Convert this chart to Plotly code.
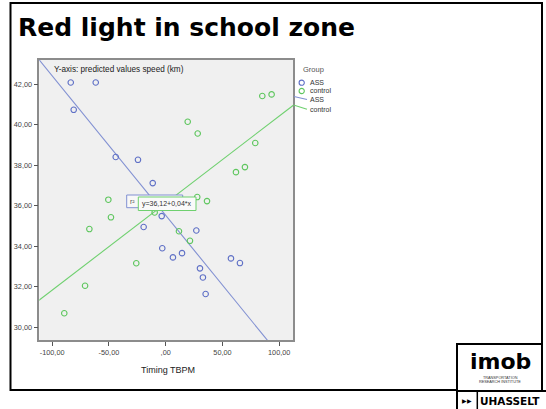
import plotly.graph_objects as go

W, H = 546, 409

# ---- data ----
ass_x = [-83.6, -61.6, -81.0, -44.0, -24.4, -11.4, -19.4, -3.5, 27.0, -3.0, 6.4, 14.4, 57.5, 65.4, 30.2, 32.8, 35.2]
ass_y = [42.08, 42.08, 40.73, 38.40, 38.26, 37.11, 34.94, 35.48, 34.77, 33.89, 33.44, 33.65, 33.39, 33.16, 32.90, 32.45, 31.63]
ctrl_x = [85.1, 93.3, 19.4, 28.2, 78.9, 69.8, 61.9, 27.8, 36.4, -50.5, -48.2, -67.2, -71.0, -89.3, -25.9, -9.7, 11.7, 21.4]
ctrl_y = [41.41, 41.49, 40.14, 39.56, 39.09, 37.90, 37.65, 36.42, 36.22, 36.29, 35.42, 34.84, 32.04, 30.68, 33.15, 35.66, 34.73, 34.26]
ass_fit = [35.52, -0.0689]      # intercept, slope
ctrl_fit = [36.12, 0.043]
fit_x = [-125.0, 125.0]
y_ticks = [30, 32, 34, 36, 38, 40, 42]
y_ticktext = ["30,00", "32,00", "34,00", "36,00", "38,00", "40,00", "42,00"]
x_ticks = [-100, -50, 0, 50, 100]
x_ticktext = ["-100,00", "-50,00", ",00", "50,00", "100,00"]
fit_label = "y=36,12+0,04*x"

BLUE = "#5f70c6"
GREEN = "#5ec65e"
BLUE_L = "#8190d2"
GREEN_L = "#6fd06f"
SANS = "Liberation Sans, Arial, sans-serif"


def px(x):
    return x / W


def py(y):
    return 1 - y / H


fig = go.Figure()

fig.add_trace(go.Scatter(x=fit_x, y=[ass_fit[0] + ass_fit[1] * v for v in fit_x], mode="lines",
                         line=dict(color=BLUE_L, width=1.1), hoverinfo="skip"))
fig.add_trace(go.Scatter(x=fit_x, y=[ctrl_fit[0] + ctrl_fit[1] * v for v in fit_x], mode="lines",
                         line=dict(color=GREEN_L, width=1.1), hoverinfo="skip"))
fig.add_trace(go.Scatter(x=ass_x, y=ass_y, mode="markers",
                         marker=dict(symbol="circle-open", size=5.5, color=BLUE, line=dict(width=1.1))))
fig.add_trace(go.Scatter(x=ctrl_x, y=ctrl_y, mode="markers",
                         marker=dict(symbol="circle-open", size=5.5, color=GREEN, line=dict(width=1.1))))

axis_common = dict(showgrid=False, zeroline=False, showline=True, mirror=True,
                   linecolor="#8c8c8c", linewidth=1.5, ticks="outside", ticklen=4,
                   tickcolor="#555", tickwidth=1, tickfont=dict(family=SANS, size=7.3, color="#444"))

fig.update_layout(
    width=W, height=H, margin=dict(l=0, r=0, t=0, b=0),
    paper_bgcolor="white", plot_bgcolor="#f0f0f0", showlegend=False,
    xaxis=dict(domain=[px(39.3), px(293.3)], range=[-111.3, 112.4],
               tickvals=x_ticks, ticktext=x_ticktext, **axis_common),
    yaxis=dict(domain=[py(340), py(60)], range=[29.36, 43.19],
               tickvals=y_ticks, ticktext=y_ticktext, **axis_common),
)

shapes = []
# slide border
shapes.append(dict(type="rect", xref="paper", yref="paper", x0=px(10.5), x1=px(542), y0=py(390), y1=py(3),
                   line=dict(color="black", width=2), layer="below"))
# r2 boxes
shapes.append(dict(type="rect", xref="paper", yref="paper", x0=px(126.7), x1=px(182.7), y0=py(207.7), y1=py(195),
                   line=dict(color=BLUE_L, width=1), fillcolor="#f8f8f8"))
shapes.append(dict(type="rect", xref="paper", yref="paper", x0=px(138.3), x1=px(196), y0=py(210.5), y1=py(197),
                   line=dict(color=GREEN_L, width=1), fillcolor="#fafafa"))
# legend symbols
for cx, cy, col in [(301.7, 82.7, BLUE), (301.7, 91, GREEN)]:
    r = 2.6
    shapes.append(dict(type="circle", xref="paper", yref="paper", x0=px(cx - r), x1=px(cx + r),
                       y0=py(cy + r), y1=py(cy - r), line=dict(color=col, width=1.1)))
shapes.append(dict(type="line", xref="paper", yref="paper", x0=px(294), x1=px(307), y0=py(96.5), y1=py(99.5),
                   line=dict(color=BLUE_L, width=1.1)))
shapes.append(dict(type="line", xref="paper", yref="paper", x0=px(293.5), x1=px(307), y0=py(105), y1=py(109.3),
                   line=dict(color=GREEN_L, width=1.1)))
# logo
shapes.append(dict(type="rect", xref="paper", yref="paper", x0=px(457), x1=px(542), y0=py(391), y1=py(344),
                   line=dict(color="black", width=2), fillcolor="white"))
shapes.append(dict(type="line", xref="paper", yref="paper", x0=px(457), x1=px(546), y0=py(391), y1=py(391),
                   line=dict(color="black", width=2)))
shapes.append(dict(type="line", xref="paper", yref="paper", x0=px(457), x1=px(457), y0=py(409), y1=py(391),
                   line=dict(color="black", width=2)))
shapes.append(dict(type="line", xref="paper", yref="paper", x0=px(477.3), x1=px(477.3), y0=py(409), y1=py(391),
                   line=dict(color="black", width=1.5)))
fig.update_layout(shapes=shapes)

ann = []


def text(x, y, s, size, color="#222", family=SANS, xanchor="left", bold=False):
    if bold:
        s = "<b>" + s + "</b>"
    ann.append(dict(xref="paper", yref="paper", x=px(x), y=py(y), text=s, showarrow=False,
                    xanchor=xanchor, yanchor="middle", font=dict(size=size, color=color, family=family)))


text(15.5, 28, "Red light in school zone", 25, "black", "DejaVu Sans, Verdana, sans-serif", bold=True)
text(52.3, 69.7, "Y-axis: predicted values speed (km)", 8.2, "#222")
text(168, 369.5, "Timing TBPM", 9, "#222", xanchor="center")
text(128.3, 201.5, "r²", 7, "#555")
text(167, 203.8, fit_label, 7, "#333", xanchor="center")
# legend texts
text(300.5, 69.3, "Group", 7.5, "#555")
text(307.5, 82.7, "ASS", 7, "#333")
text(307.5, 91, "control", 7, "#333")
text(307.5, 99.5, "ASS", 7, "#333")
text(307.5, 109.3, "control", 7, "#333")
# logo texts
text(500, 361, "imob", 22, "black", "DejaVu Sans, sans-serif", xanchor="center", bold=True)
text(500, 377.7, "TRANSPORTATION", 3.8, "#333", xanchor="center")
text(500, 382.3, "RESEARCH INSTITUTE", 3.8, "#333", xanchor="center")
text(467, 400.5, "▶▶", 6, "black", xanchor="center")
text(510, 401, "UHASSELT", 10.5, "black", "DejaVu Sans, sans-serif", xanchor="center", bold=True)
fig.update_layout(annotations=ann)

fig.write_html("out.html", config={"displayModeBar": False},
               post_script="document.body.style.margin='0';document.body.style.overflow='hidden';")
